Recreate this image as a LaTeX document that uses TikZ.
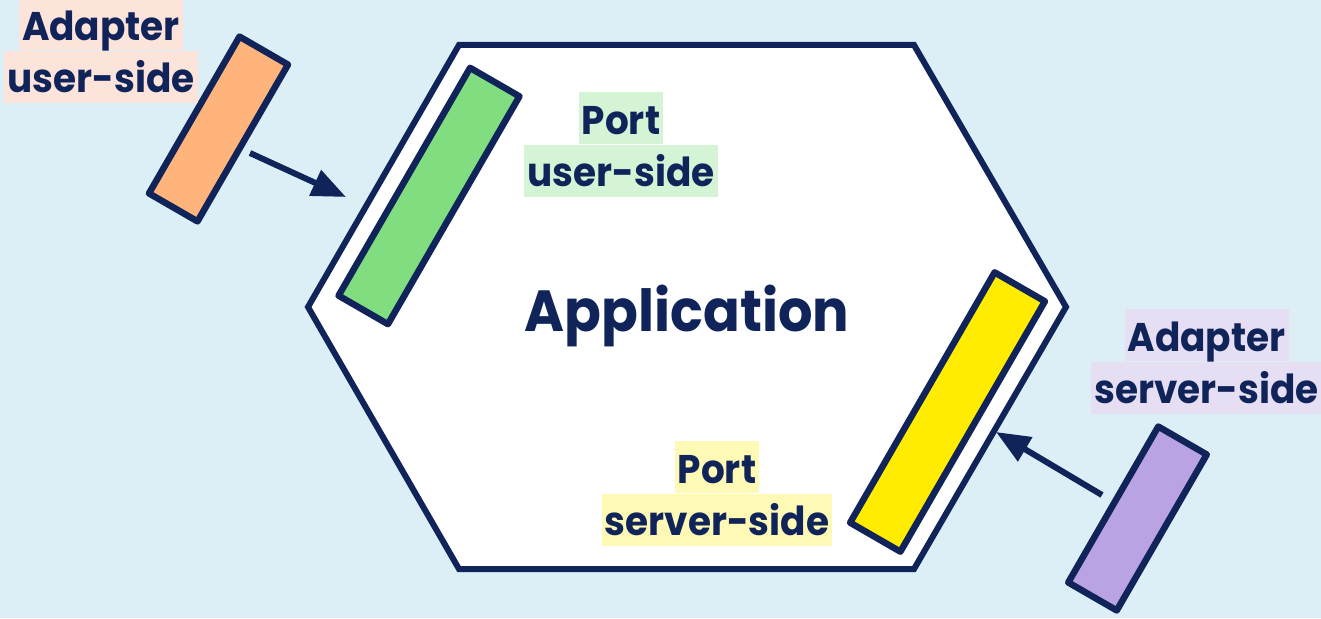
\documentclass[tikz,border=0pt]{standalone}
\usepackage{fontspec}
\setmainfont{Poppins}[FakeStretch=0.935]
\usetikzlibrary{arrows.meta,positioning}

\definecolor{bgblue}{HTML}{DCEEF6}
\definecolor{ink}{HTML}{10245A}
\definecolor{adaptorange}{HTML}{FFB47C}
\definecolor{portgreen}{HTML}{80DE80}
\definecolor{portyellow}{HTML}{FFEC00}
\definecolor{adaptpurple}{HTML}{B9A3E3}
\definecolor{hlorange}{HTML}{FDE4DA}
\definecolor{hlgreen}{HTML}{D5F4D6}
\definecolor{hlyellow}{HTML}{FFF9B6}
\definecolor{hlpurple}{HTML}{E6DFF3}

\tikzset{
  block/.style={draw=ink, line width=6.5pt, line join=round, rectangle,
    inner sep=0pt, rotate=60},
  hl/.style={fill=#1, text=ink, inner xsep=3pt, inner ysep=0pt,
    text height=42pt, text depth=10pt,
    font=\fontsize{40}{48}\selectfont\bfseries},
  flow/.style={draw=ink, line width=6pt,
    -{Triangle[length=34pt,width=27pt]}},
}

\begin{document}
\begin{tikzpicture}[x=1pt,y=1pt]
  % canvas
  \fill[bgblue] (0,0) rectangle (1321,-618);
  \useasboundingbox (0,0) rectangle (1321,-618);

  % application hexagon
  \coordinate (h1) at (459,-45);
  \coordinate (h2) at (914,-45);
  \coordinate (h3) at (1066,-307);
  \coordinate (h4) at (914,-569);
  \coordinate (h5) at (459,-569);
  \coordinate (h6) at (308,-307);
  \draw[ink, fill=white, line width=6pt, line join=miter]
    (h1) -- (h2) -- (h3) -- (h4) -- (h5) -- (h6) -- cycle;

  \node[text=ink, anchor=base, font=\fontsize{58}{66}\selectfont\bfseries]
    (app) at (687,-331) {Application};

  % ports inside the hexagon
  \node[block, fill=portgreen, minimum width=263pt, minimum height=57pt]
    (puser) at (429,-196) {};
  \node[block, fill=portyellow, minimum width=289pt, minimum height=58pt]
    (pserver) at (947.5,-412) {};

  % adapters outside
  \node[block, fill=adaptorange, minimum width=181pt, minimum height=56pt]
    (auser) at (218.5,-129) {};
  \node[block, fill=adaptpurple, minimum width=180pt, minimum height=56pt]
    (aserver) at (1137.5,-518.5) {};

  % labels
  \node[hl=hlorange, anchor=north] (lau1) at (101,2) {Adapter};
  \node[hl=hlorange, anchor=north] (lau2) at (lau1.south) {user-side};

  \node[hl=hlgreen, anchor=north] (lpu1) at (621,-92) {Port};
  \node[hl=hlgreen, anchor=north] (lpu2) at (lpu1.south) {user-side};

  \node[hl=hlyellow, anchor=north] (lps1) at (717,-441) {Port};
  \node[hl=hlyellow, anchor=north] (lps2) at (lps1.south) {server-side};

  \node[hl=hlpurple, anchor=north] (las1) at (1206.5,-309) {Adapter};
  \node[hl=hlpurple, anchor=north] (las2) at (las1.south) {server-side};

  % connectors from adapters towards the hexagon
  \coordinate (fu0) at (250,-153);
  \coordinate (fu1) at (346,-197);
  \coordinate (fs0) at (1102,-495);
  \coordinate (fs1) at (996,-432);
  \draw[flow] (fu0) -- (fu1);
  \draw[flow] (fs0) -- (fs1);
\end{tikzpicture}
\end{document}
